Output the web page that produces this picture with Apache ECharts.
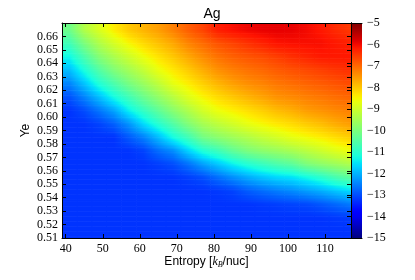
<!DOCTYPE html>
<html>
<head>
<meta charset="utf-8">
<script src="https://cdn.jsdelivr.net/npm/echarts@6/dist/echarts.min.js"></script>
<style>html,body{margin:0;padding:0;background:#fff;}#c{width:415px;height:280px;}</style>
</head>
<body>
<div id="c"></div>
<script>
// ---- data ----
const titleText = 'Ag';
// cell centres of the grid
const entropy = [41, 45, 49, 53, 57, 61, 65, 69, 73, 77, 81, 85, 89, 93, 97, 101, 105, 109, 113, 117];
const ye = [0.515, 0.525, 0.535, 0.545, 0.555, 0.565, 0.575, 0.585, 0.595, 0.605, 0.615, 0.625, 0.635, 0.645, 0.655, 0.665];
// log abundance, one list per entropy column, from Ye=0.515 upward
const logAbund = [
  [-13.25,-13.25,-13.25,-13.25,-13.25,-13.25,-13.25,-13.25,-13.25,-13.25,-12.95,-12.45,-11.89,-11.3,-10.73,-10.17],
  [-13.25,-13.25,-13.25,-13.25,-13.25,-13.25,-13.25,-13.25,-13.25,-13.0,-12.46,-11.83,-11.18,-10.59,-10.0,-9.35],
  [-13.25,-13.25,-13.25,-13.25,-13.25,-13.25,-13.25,-13.25,-13.1,-12.59,-11.88,-11.11,-10.5,-9.9,-9.38,-8.86],
  [-13.25,-13.25,-13.25,-13.25,-13.25,-13.25,-13.25,-13.25,-12.81,-12.12,-11.24,-10.59,-9.95,-9.43,-8.91,-8.4],
  [-13.25,-13.25,-13.25,-13.25,-13.25,-13.25,-13.25,-12.88,-12.3,-11.39,-10.72,-10.07,-9.53,-9.01,-8.51,-8.03],
  [-13.25,-13.25,-13.25,-13.25,-13.25,-13.25,-13.1,-12.48,-11.6,-10.85,-10.2,-9.64,-9.12,-8.62,-8.2,-7.79],
  [-13.25,-13.25,-13.25,-13.25,-13.25,-13.15,-12.68,-11.9,-11.03,-10.34,-9.73,-9.19,-8.66,-8.3,-7.94,-7.57],
  [-13.25,-13.25,-13.25,-13.25,-13.25,-13.0,-12.36,-11.23,-10.51,-9.83,-9.27,-8.7,-8.36,-8.01,-7.67,-7.25],
  [-13.25,-13.25,-13.25,-13.25,-13.15,-12.65,-11.68,-10.73,-9.94,-9.38,-8.81,-8.41,-8.05,-7.68,-7.3,-6.89],
  [-13.25,-13.25,-13.25,-13.25,-13.0,-12.19,-11.1,-10.1,-9.49,-8.93,-8.48,-8.1,-7.73,-7.37,-7.03,-6.6],
  [-13.25,-13.25,-13.25,-13.2,-12.69,-11.8,-10.76,-9.81,-9.2,-8.62,-8.22,-7.82,-7.43,-7.1,-6.77,-6.2],
  [-13.25,-13.25,-13.25,-13.1,-12.38,-11.4,-10.33,-9.57,-8.95,-8.44,-8.01,-7.59,-7.24,-6.92,-6.6,-6.05],
  [-13.25,-13.25,-13.25,-12.86,-12.1,-11.08,-10.0,-9.35,-8.7,-8.26,-7.81,-7.41,-7.1,-6.79,-6.42,-5.95],
  [-13.25,-13.25,-13.2,-12.69,-11.85,-10.83,-9.79,-9.11,-8.52,-8.08,-7.63,-7.29,-6.99,-6.69,-6.25,-5.9],
  [-13.25,-13.25,-13.15,-12.53,-11.66,-10.59,-9.64,-8.92,-8.36,-7.88,-7.44,-7.15,-6.86,-6.55,-6.1,-5.88],
  [-13.25,-13.25,-13.1,-12.39,-11.55,-10.39,-9.46,-8.7,-8.22,-7.74,-7.35,-7.05,-6.75,-6.39,-6.06,-5.9],
  [-13.25,-13.25,-13.05,-12.21,-11.3,-10.0,-9.24,-8.55,-8.05,-7.55,-7.24,-6.95,-6.66,-6.27,-6.05,-6.0],
  [-13.25,-13.25,-12.91,-12.03,-11.01,-9.77,-9.01,-8.4,-7.9,-7.44,-7.15,-6.86,-6.56,-6.15,-6.05,-6.15],
  [-13.25,-13.2,-12.74,-11.8,-10.65,-9.59,-8.78,-8.23,-7.71,-7.33,-7.05,-6.77,-6.46,-6.15,-6.15,-6.35],
  [-13.25,-13.15,-12.56,-11.6,-10.39,-9.39,-8.6,-8.07,-7.55,-7.25,-6.97,-6.68,-6.39,-6.15,-6.25,-6.5]
];
const xTicks = [40, 50, 60, 70, 80, 90, 100, 110];
const yTicks = [0.51, 0.52, 0.53, 0.54, 0.55, 0.56, 0.57, 0.58, 0.59, 0.60, 0.61, 0.62, 0.63, 0.64, 0.65, 0.66];
const cbarTicks = [-15, -14, -13, -12, -11, -10, -9, -8, -7, -6, -5];

// ---- layout / style ----
const X_MIN = 39, X_MAX = 117, Y_MIN = 0.51, Y_MAX = 0.67;
const V_MIN = -15, V_MAX = -5;
const CELL_W = 4, CELL_H = 0.01;
const STRIPS = 8;
const SERIF = '"Liberation Serif","DejaVu Serif",serif';
const SANS = '"Liberation Sans","DejaVu Sans",sans-serif';

// matplotlib "jet" colour map
const JR = [[0,0],[0.35,0],[0.66,1],[0.89,1],[1,0.5]];
const JG = [[0,0],[0.125,0],[0.375,1],[0.64,1],[0.91,0],[1,0]];
const JB = [[0,0.5],[0.11,1],[0.34,1],[0.65,0],[1,0]];
function seg(p, t){
  for (let i = 1; i < p.length; i++) {
    if (t <= p[i][0]) {
      const a = p[i-1], b = p[i];
      return a[1] + (b[1]-a[1]) * (t - a[0]) / (b[0] - a[0]);
    }
  }
  return p[p.length-1][1];
}
function jet(t){
  t = Math.max(0, Math.min(1, t));
  const r = Math.round(255*seg(JR,t)), g = Math.round(255*seg(JG,t)), b = Math.round(255*seg(JB,t));
  return 'rgb(' + r + ',' + g + ',' + b + ')';
}
const norm = v => (v - V_MIN) / (V_MAX - V_MIN);

// smooth (Gouraud-like) shading between the cell values, used only for painting
const nI = entropy.length, nJ = ye.length;
function shadeAt(fi, fj){
  fi = Math.max(0, Math.min(nI - 1, fi));
  fj = Math.max(0, Math.min(nJ - 1, fj));
  const i0 = Math.min(Math.floor(fi), nI - 2), j0 = Math.min(Math.floor(fj), nJ - 2);
  const ti = fi - i0, tj = fj - j0;
  const a = logAbund[i0][j0], b = logAbund[i0+1][j0], c = logAbund[i0][j0+1], d = logAbund[i0+1][j0+1];
  return (a*(1-ti) + b*ti)*(1-tj) + (c*(1-ti) + d*ti)*tj;
}

const cells = [];
entropy.forEach((e, i) => ye.forEach((y, j) => cells.push([e, y, logAbund[i][j], i, j])));

const stops = [];
for (let k = 0; k <= 60; k++) stops.push({offset: k/60, color: jet(k/60)});

const chart = echarts.init(document.getElementById('c'));
const lineBlack = {show: true, lineStyle: {color: '#000', width: 1}};
const tickIn = (vals) => ({show: true, inside: true, length: 4, customValues: vals, lineStyle: {color: '#000', width: 1}});

chart.setOption({
  animation: false,
  backgroundColor: '#fff',
  title: {text: titleText, left: 207, top: 2, textAlign: 'center',
    textStyle: {fontFamily: SANS, fontSize: 14, fontWeight: 'normal', color: '#000'}},
  grid: [
    {left: 62, top: 23, width: 289, height: 215},
    {left: 351, top: 23, width: 11, height: 215}
  ],
  xAxis: [
    {gridIndex: 0, type: 'value', min: X_MIN, max: X_MAX, position: 'bottom', z: 10,
     axisLine: lineBlack, axisTick: tickIn(xTicks), splitLine: {show: false},
     axisLabel: {customValues: xTicks, fontFamily: SERIF, fontSize: 12, color: '#000', margin: 5},
     name: '{a|Entropy [}{k|k}{s|B}{a|/nuc]}', nameLocation: 'middle', nameGap: 17, nameMoveOverlap: false,
     nameTextStyle: {rich: {
       a: {fontFamily: SANS, fontSize: 12, color: '#000', lineHeight: 14},
       k: {fontFamily: SERIF, fontStyle: 'italic', fontSize: 12, color: '#000', lineHeight: 14},
       s: {fontFamily: SERIF, fontStyle: 'italic', fontSize: 8, color: '#000', lineHeight: 14, verticalAlign: 'bottom', padding: [5, 0, 0, 0]}
     }}},
    {gridIndex: 0, type: 'value', min: X_MIN, max: X_MAX, position: 'top', z: 10,
     axisLine: lineBlack, axisTick: tickIn(xTicks), axisLabel: {show: false}, splitLine: {show: false}},
    {gridIndex: 1, type: 'value', min: 0, max: 1, position: 'bottom', z: 10,
     axisLine: lineBlack, axisTick: {show: false}, axisLabel: {show: false}, splitLine: {show: false}},
    {gridIndex: 1, type: 'value', min: 0, max: 1, position: 'top', z: 10,
     axisLine: lineBlack, axisTick: {show: false}, axisLabel: {show: false}, splitLine: {show: false}}
  ],
  yAxis: [
    {gridIndex: 0, type: 'value', min: Y_MIN, max: Y_MAX, position: 'left', z: 10,
     axisLine: lineBlack, axisTick: tickIn(yTicks), splitLine: {show: false},
     axisLabel: {customValues: yTicks, formatter: v => v.toFixed(2), fontFamily: SERIF, fontSize: 12, color: '#000', margin: 4},
     name: 'Ye', nameLocation: 'middle', nameGap: 30, nameMoveOverlap: false,
     nameTextStyle: {fontFamily: SANS, fontSize: 12, color: '#000'}},
    {gridIndex: 0, type: 'value', min: Y_MIN, max: Y_MAX, position: 'right', z: 10,
     axisLine: lineBlack, axisTick: tickIn(yTicks), axisLabel: {show: false}, splitLine: {show: false}},
    {gridIndex: 1, type: 'value', min: V_MIN, max: V_MAX, position: 'left', z: 10,
     axisLine: lineBlack, axisTick: {show: false}, axisLabel: {show: false}, splitLine: {show: false}},
    {gridIndex: 1, type: 'value', min: V_MIN, max: V_MAX, position: 'right', z: 10,
     axisLine: lineBlack, axisTick: tickIn(cbarTicks), splitLine: {show: false},
     axisLabel: {customValues: cbarTicks, formatter: v => (v < 0 ? '\u2212' : '') + Math.abs(v),
       fontFamily: SERIF, fontSize: 12, color: '#000', margin: 5}}
  ],
  series: [
    {type: 'custom', xAxisIndex: 0, yAxisIndex: 0, data: cells, encode: {x: 0, y: 1},
     renderItem: function(params, api){
       const e = api.value(0), y = api.value(1), i = api.value(3), j = api.value(4);
       const p0 = api.coord([e - CELL_W/2, y + CELL_H/2]);
       const p1 = api.coord([e + CELL_W/2, y - CELL_H/2]);
       const cs = params.coordSys;
       const clipBox = {x: cs.x, y: cs.y, width: cs.width, height: cs.height};
       const w = p1[0] - p0[0], h = p1[1] - p0[1], hs = h / STRIPS;
       const children = [];
       for (let s = 0; s < STRIPS; s++) {
         const fj = j + 0.5 - (s + 0.5) / STRIPS;
         const r = echarts.graphic.clipRectByRect(
           {x: p0[0], y: p0[1] + s*hs, width: w + 0.6, height: hs + 0.6}, clipBox);
         if (!r) continue;
         const gs = [];
         for (let k = 0; k <= 4; k++) {
           gs.push({offset: k/4, color: jet(norm(shadeAt(i - 0.5 + k*0.25, fj)))});
         }
         children.push({type: 'rect', shape: r,
           style: {fill: new echarts.graphic.LinearGradient(p0[0], 0, p0[0] + w, 0, gs, true)}});
       }
       return {type: 'group', children: children};
     }},
    {type: 'custom', xAxisIndex: 2, yAxisIndex: 3, data: [[0, V_MIN, V_MAX]], encode: {x: 0, y: 1},
     renderItem: function(params, api){
       const p0 = api.coord([0, api.value(2)]);
       const p1 = api.coord([1, api.value(1)]);
       return {type: 'rect', shape: {x: p0[0], y: p0[1], width: p1[0]-p0[0], height: p1[1]-p0[1]},
         style: {fill: new echarts.graphic.LinearGradient(0, 1, 0, 0, stops)}};
     }}
  ]
});
</script>
</body>
</html>
